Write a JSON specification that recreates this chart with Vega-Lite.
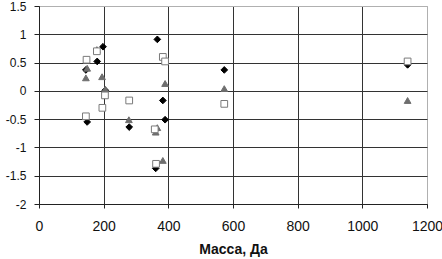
{
  "$schema": "https://vega.github.io/schema/vega-lite/v6.json",
  "autosize": "none",
  "width": 388,
  "height": 198,
  "padding": {"left": 39, "top": 6, "right": 15, "bottom": 55},
  "background": "white",
  "config": {
    "view": {"stroke": "#b0b0b0", "strokeWidth": 1},
    "axis": {"labelFont": "Liberation Sans", "titleFont": "Liberation Sans", "labelColor": "#111", "titleColor": "#111", "domainColor": "#222", "tickColor": "#222", "gridOpacity": 1}
  },
  "data": {
    "values": [
      {"mass": 149, "value": -0.55, "series": "A"},
      {"mass": 145, "value": 0.37, "series": "A"},
      {"mass": 180, "value": 0.52, "series": "A"},
      {"mass": 198, "value": 0.78, "series": "A"},
      {"mass": 205, "value": 0.01, "series": "A"},
      {"mass": 279, "value": -0.64, "series": "A"},
      {"mass": 366, "value": 0.91, "series": "A"},
      {"mass": 383, "value": -0.17, "series": "A"},
      {"mass": 390, "value": -0.51, "series": "A"},
      {"mass": 361, "value": -1.37, "series": "A"},
      {"mass": 573, "value": 0.37, "series": "A"},
      {"mass": 1140, "value": 0.46, "series": "A"},
      {"mass": 145, "value": 0.23, "series": "B"},
      {"mass": 149, "value": 0.4, "series": "B"},
      {"mass": 179, "value": 0.73, "series": "B"},
      {"mass": 195, "value": 0.25, "series": "B"},
      {"mass": 205, "value": 0.03, "series": "B"},
      {"mass": 278, "value": -0.51, "series": "B"},
      {"mass": 366, "value": -0.65, "series": "B"},
      {"mass": 361, "value": -0.73, "series": "B"},
      {"mass": 383, "value": -1.23, "series": "B"},
      {"mass": 390, "value": 0.13, "series": "B"},
      {"mass": 573, "value": 0.04, "series": "B"},
      {"mass": 1140, "value": -0.17, "series": "B"},
      {"mass": 147, "value": 0.55, "series": "C"},
      {"mass": 145, "value": -0.45, "series": "C"},
      {"mass": 179, "value": 0.7, "series": "C"},
      {"mass": 196, "value": -0.3, "series": "C"},
      {"mass": 204, "value": -0.08, "series": "C"},
      {"mass": 279, "value": -0.17, "series": "C"},
      {"mass": 383, "value": 0.6, "series": "C"},
      {"mass": 390, "value": 0.52, "series": "C"},
      {"mass": 358, "value": -0.68, "series": "C"},
      {"mass": 362, "value": -1.29, "series": "C"},
      {"mass": 573, "value": -0.23, "series": "C"},
      {"mass": 1140, "value": 0.52, "series": "C"}
    ]
  },
  "mark": {"type": "point", "size": 45, "strokeWidth": 1, "opacity": 1},
  "encoding": {
    "x": {
      "field": "mass", "type": "quantitative",
      "scale": {"domain": [0, 1200], "nice": false, "zero": false},
      "axis": {
        "values": [0, 200, 400, 600, 800, 1000, 1200],
        "labelExpr": "datum.value + ''",
        "title": "Масса, Да",
        "titleFontSize": 14, "titleFontWeight": "bold", "titlePadding": 9,
        "labelFontSize": 14, "labelPadding": 11, "tickSize": 4,
        "labelFlush": false,
        "grid": true,
        "gridColor": {"condition": {"test": "datum.value == 1200", "value": "#b0b0b0"}, "value": "#333"},
        "domainColor": "#222"
      }
    },
    "y": {
      "field": "value", "type": "quantitative",
      "scale": {"domain": [-2, 1.5], "nice": false, "zero": false},
      "axis": {
        "values": [-2, -1.5, -1, -0.5, 0, 0.5, 1, 1.5],
        "labelExpr": "datum.value + ''",
        "title": null,
        "labelFontSize": 12, "labelPadding": 8, "tickSize": 5,
        "labelFlush": false,
        "grid": true,
        "gridColor": {"condition": {"test": "datum.value == 1.5", "value": "#b0b0b0"}, "value": "#333"}
      }
    },
    "shape": {
      "field": "series", "type": "nominal",
      "scale": {"domain": ["A", "B", "C"], "range": ["diamond", "triangle-up", "square"]},
      "legend": null
    },
    "fill": {
      "field": "series", "type": "nominal",
      "scale": {"domain": ["A", "B", "C"], "range": ["#000000", "#6e6e6e", "#ffffff"]},
      "legend": null
    },
    "stroke": {
      "field": "series", "type": "nominal",
      "scale": {"domain": ["A", "B", "C"], "range": ["#000000", "#6e6e6e", "#7a7a7a"]},
      "legend": null
    }
  }
}
